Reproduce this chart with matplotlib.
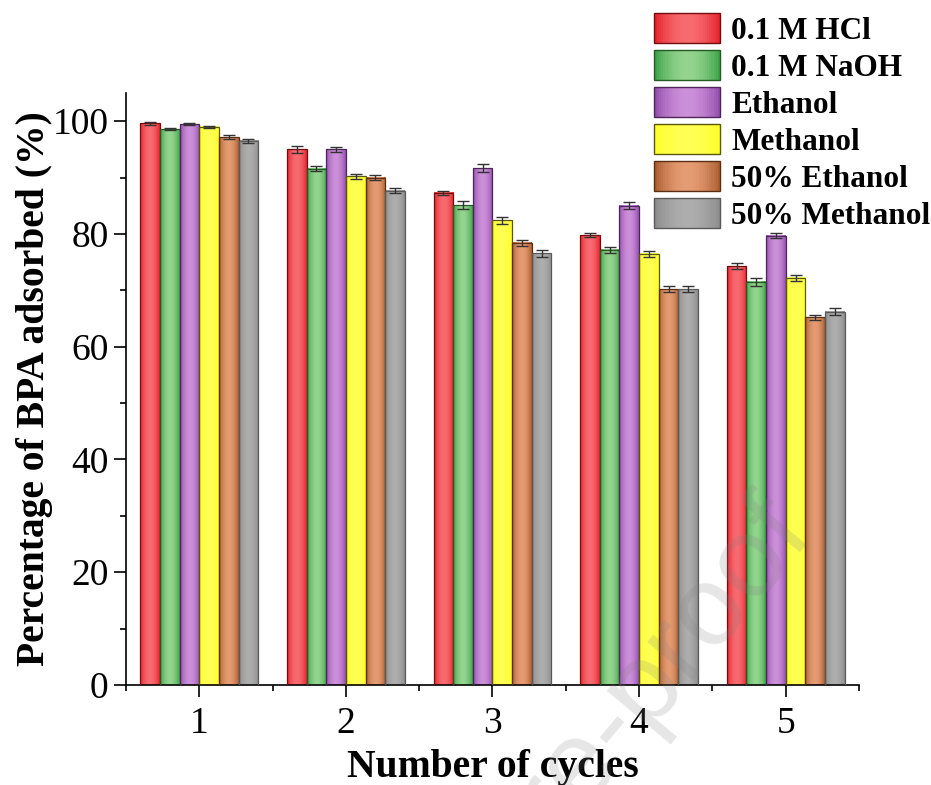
import numpy as np
import matplotlib
matplotlib.use('Agg')
import matplotlib.pyplot as plt
from matplotlib.patches import Rectangle
from matplotlib.legend_handler import HandlerBase
from matplotlib.ticker import MultipleLocator

#%% Data
cycles = [1, 2, 3, 4, 5]
labels = ['0.1 M HCl', '0.1 M NaOH', 'Ethanol', 'Methanol', '50% Ethanol', '50% Methanol']

hcl = [99.6, 95.0, 87.3, 79.8, 74.3]
naoh = [98.6, 91.6, 85.1, 77.2, 71.5]
ethanol = [99.5, 95.0, 91.7, 85.0, 79.7]
methanol = [99.0, 90.2, 82.4, 76.5, 72.2]
ethanol50 = [97.2, 90.0, 78.4, 70.2, 65.2]
methanol50 = [96.5, 87.7, 76.6, 70.2, 66.2]

hcl_err = [0.2, 0.6, 0.4, 0.3, 0.6]
naoh_err = [0.2, 0.5, 0.7, 0.5, 0.7]
ethanol_err = [0.2, 0.5, 0.7, 0.6, 0.5]
methanol_err = [0.2, 0.4, 0.6, 0.5, 0.5]
ethanol50_err = [0.4, 0.5, 0.6, 0.5, 0.5]
methanol50_err = [0.3, 0.4, 0.6, 0.5, 0.6]

series = [hcl, naoh, ethanol, methanol, ethanol50, methanol50]
errors = [hcl_err, naoh_err, ethanol_err, methanol_err, ethanol50_err, methanol50_err]

### (edge shade, centre highlight, outline)
shades = [
    ((0.90, 0.14, 0.18), (0.97, 0.42, 0.44), (0.45, 0.05, 0.05)),
    ((0.24, 0.64, 0.28), (0.58, 0.83, 0.56), (0.15, 0.35, 0.15)),
    ((0.58, 0.31, 0.68), (0.80, 0.56, 0.85), (0.30, 0.15, 0.35)),
    ((1.00, 1.00, 0.16), (1.00, 1.00, 0.33), (0.35, 0.35, 0.05)),
    ((0.68, 0.37, 0.19), (0.90, 0.61, 0.45), (0.35, 0.18, 0.08)),
    ((0.55, 0.55, 0.55), (0.68, 0.68, 0.68), (0.35, 0.35, 0.35)),
]

def gradient(edge, centre, n=64):
    u = np.linspace(0, 1, n)
    f = np.sin(np.pi * u) ** 0.9
    edge = np.array(edge)
    centre = np.array(centre)
    return (edge[None, :] + (centre - edge)[None, :] * f[:, None])[None, :, :]

class GradientHandler(HandlerBase):
    def create_artists(self, legend, orig_handle, xdescent, ydescent,
                       width, height, fontsize, trans):
        edge, centre, outline = orig_handle
        grad = gradient(edge, centre, 30)[0]
        arts = []
        dw = width / len(grad)
        for i, c in enumerate(grad):
            arts.append(Rectangle((-xdescent + i * dw, -ydescent), dw * 1.05, height,
                                  facecolor=c, edgecolor='none', transform=trans))
        arts.append(Rectangle((-xdescent, -ydescent), width, height, facecolor='none',
                              edgecolor=outline, linewidth=1.0, transform=trans))
        return arts

#%% Style
plt.rcParams['font.family'] = 'Liberation Serif'
plt.rcParams['axes.linewidth'] = 1.2

fig = plt.figure(figsize=(9.31, 7.85), dpi=100)
ax = fig.add_axes([0.1353, 0.1274, 0.7874, 0.7541])

nser = len(series)
width = 0.134
x = np.array(cycles, dtype=float)
for k, (vals, err, shade) in enumerate(zip(series, errors, shades)):
    pos = x + (k - (nser - 1) / 2) * width
    bars = ax.bar(pos, vals, width=width, facecolor='none', edgecolor=shade[2],
                  linewidth=0.9, zorder=3)
    grad = gradient(shade[0], shade[1])
    for p in bars.patches:
        ax.imshow(grad, extent=(p.get_x(), p.get_x() + p.get_width(), 0, p.get_height()),
                  aspect='auto', zorder=2, interpolation='bilinear')
    ax.errorbar(pos, vals, yerr=err, fmt='none', ecolor='#333333', elinewidth=1.0,
                capsize=4, capthick=1.0, zorder=4)

ax.set_xlim(0.5, 5.5)
ax.set_ylim(0, 105)
ax.set_aspect('auto')
ax.spines['top'].set_visible(False)
ax.spines['right'].set_visible(False)

ax.set_xticks(cycles)
ax.xaxis.set_minor_locator(MultipleLocator(0.5))
ax.yaxis.set_major_locator(MultipleLocator(20))
ax.yaxis.set_minor_locator(MultipleLocator(10))
ax.tick_params(which='major', length=8.5, width=1.2, labelsize=27, pad=4)
ax.tick_params(axis='x', which='major', pad=7)
ax.tick_params(which='minor', length=4, width=1.2)

ax.set_xlabel('Number of cycles', fontsize=28.5, fontweight='bold', labelpad=6)
ax.set_ylabel('Percentage of BPA adsorbed (%)', fontsize=28.5, fontweight='bold', labelpad=0)

fig.legend(shades, labels, handler_map={tuple: GradientHandler()},
           loc='upper left', bbox_to_anchor=(0.703, 0.983), frameon=False,
           prop={'family': 'Liberation Serif', 'weight': 'bold', 'size': 22.5},
           handlelength=2.1, handleheight=1.1, labelspacing=0.14,
           handletextpad=0.35, borderpad=0, borderaxespad=0)

### Faint watermark
fig.text(0.875, 0.318, 'Journal Pre-proof', fontsize=82, family='Liberation Sans',
         color='#808080', alpha=0.2, rotation=50, rotation_mode='anchor',
         ha='right', va='baseline', zorder=10)

fig.savefig('out.png', dpi=100)
